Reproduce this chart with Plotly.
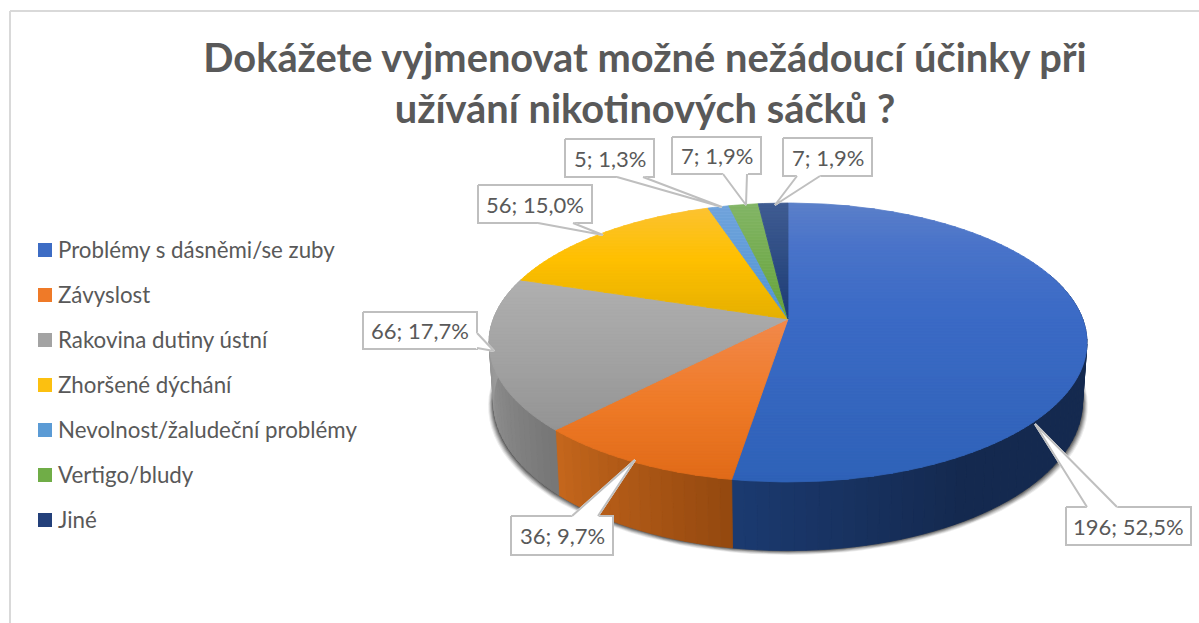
import math
import plotly.graph_objects as go

# ---- data ----
categories = ["Problémy s dásněmi/se zuby", "Závyslost", "Rakovina dutiny ústní",
              "Zhoršené dýchání", "Nevolnost/žaludeční problémy", "Vertigo/bludy", "Jiné"]
values = [196, 36, 66, 56, 5, 7, 7]
title_text = "Dokážete vyjmenovat možné nežádoucí účinky při<br>užívání nikotinových sáčků ?"

# ---- styles ----
swatch_colors = ["#3d6cc4", "#ef7a28", "#a3a3a3", "#fcc010", "#5b9bd5", "#70ad47", "#23407a"]
top_stops = [
    [(203, "#5c80c9"), (245, "#4a74c9"), (310, "#3c6bc6"), (482, "#2f62b8")],
    [(318, "#f2894c"), (400, "#ef7b28"), (482, "#e06a18")],
    [(278, "#b0b0b0"), (350, "#a4a4a4"), (430, "#949494")],
    [(205, "#fcc234"), (260, "#ffc000"), (319, "#e5b000")],
    [(205, "#70a3db"), (319, "#5094d4")],
    [(205, "#82b565"), (319, "#66a33a")],
    [(205, "#3f5c92"), (319, "#1d3c75")],
]
side_stops = [
    [(70, "#14294f"), (150, "#14294f"), (189, "#1b3a70")],
    [(189, "#93480f"), (224, "#c6671c")],
    [(224, "#767676"), (270, "#9c9c9c"), (290, "#a8a8a8")],
]
callouts = [
    ((1066, 507, 1191, 545), [(1087, 507), (1035, 424), (1117, 507)]),
    ((511, 516, 613, 555), [(572, 516), (635, 460), (598, 516)]),
    ((363, 312, 477, 349), [(477, 333), (494, 351), (477, 348)]),
    ((478, 185, 592, 223), [(538, 223), (603, 235), (573, 223)]),
    ((565, 139, 654, 177), [(617, 177), (722, 207), (643, 177)]),
    ((672, 137, 761, 174), [(723, 174), (746, 205), (747, 174)]),
    ((783, 138, 872, 176), [(797, 176), (775, 205), (820, 176)]),
]
CX, CY, RX, RY, K = 788, 319, 294.7, 135.5, 0.1684
SX, SY, DROP = 0.985, 1.0685, 57.5
FONT = "Lato"
TEXT = "#595959"


def hex2rgb(h):
    return tuple(int(h[i:i + 2], 16) for i in (1, 3, 5))


def ramp(stops, t):
    if t <= stops[0][0]:
        return stops[0][1]
    for (a, ca), (b, cb) in zip(stops, stops[1:]):
        if t <= b:
            f = (t - a) / (b - a)
            ra, rb = hex2rgb(ca), hex2rgb(cb)
            return "rgb(%d,%d,%d)" % tuple(round(x + (y - x) * f) for x, y in zip(ra, rb))
    return stops[-1][1]


def top_pt(deg):
    th = math.radians(deg)
    u, v = math.sin(th), math.cos(th)
    w = 1 + K * v
    return CX + RX * u / w, CY - RY * v / w


def low_pt(deg):
    x, y = top_pt(deg)
    return CX + (x - CX) * SX, CY + DROP + (y - CY) * SY


def clip(poly, y0, y1):
    def cut(p, keep, y):
        out = []
        for i in range(len(p)):
            a, b = p[i], p[(i + 1) % len(p)]
            ka, kb = keep(a), keep(b)
            if ka:
                out.append(a)
            if ka != kb:
                f = (y - a[1]) / (b[1] - a[1])
                out.append((a[0] + (b[0] - a[0]) * f, y))
        return out
    p = cut(poly, lambda q: q[1] >= y0, y0)
    return cut(p, lambda q: q[1] <= y1, y1) if p else []


fig = go.Figure()


def patch(pts, color, lw=0.8):
    xs = [p[0] for p in pts] + [pts[0][0]]
    ys = [p[1] for p in pts] + [pts[0][1]]
    fig.add_trace(go.Scatter(x=xs, y=ys, mode="lines", fill="toself", fillcolor=color,
                             line=dict(color=color, width=lw), hoverinfo="skip", showlegend=False))


total = sum(values)
edges = [0]
for val in values:
    edges.append(edges[-1] + val / total * 360)

# soft shadow under the pie
for grow, a in [(6, .07), (5, .1), (4, .13), (3, .16), (2, .2), (1, .25)]:
    ring = []
    for d in range(75, 292, 3):
        x, y = low_pt(d)
        ring.append((x + (x - CX) / RX * grow * 0.9, y + grow * 0.75))
    patch(ring, "rgba(0,0,0,%.2f)" % a, 0)

# side wall
for i in range(3):
    a0 = max(edges[i], 70)
    a1 = min(edges[i + 1], 292)
    n = max(1, int((a1 - a0) / 2))
    for j in range(n):
        d0 = a0 + (a1 - a0) * j / n
        d1 = a0 + (a1 - a0) * (j + 1) / n
        patch([top_pt(d0), top_pt(d1), low_pt(d1), low_pt(d0)], ramp(side_stops[i], (d0 + d1) / 2))

# top face, in horizontal gradient bands
for i in range(len(values)):
    a0, a1 = edges[i], edges[i + 1]
    n = max(2, int((a1 - a0) / 1.0))
    poly = [(CX, CY)] + [top_pt(a0 + (a1 - a0) * j / n) for j in range(n + 1)]
    ymin, ymax = min(p[1] for p in poly), max(p[1] for p in poly)
    y = ymin
    while y < ymax:
        part = clip(poly, y, y + 3)
        if len(part) >= 3:
            patch(part, ramp(top_stops[i], y + 1.5))
        y += 3

# callouts
for i, ((x0, y0, x1, y1), wedge) in enumerate(callouts):
    pts = [(x0, y0), (x1, y0), (x1, y1), (x0, y1)]
    xs = [p[0] for p in pts] + [x0]
    ys = [p[1] for p in pts] + [y0]
    fig.add_trace(go.Scatter(x=xs, y=ys, mode="lines", fill="toself", fillcolor="white",
                             line=dict(color="#bfbfbf", width=2), hoverinfo="skip", showlegend=False))
    fig.add_trace(go.Scatter(x=[p[0] for p in wedge] + [wedge[0][0]], y=[p[1] for p in wedge] + [wedge[0][1]],
                             mode="lines", fill="toself", fillcolor="white", line=dict(color="white", width=2),
                             hoverinfo="skip", showlegend=False))
    fig.add_trace(go.Scatter(x=[p[0] for p in wedge], y=[p[1] for p in wedge],
                             mode="lines", line=dict(color="#bfbfbf", width=2),
                             hoverinfo="skip", showlegend=False))
    label = f"{values[i]}; {values[i] / total * 100:.1f}%".replace(".", ",")
    fig.add_annotation(x=(x0 + x1) / 2, y=(y0 + y1) / 2, text=label, showarrow=False,
                       font=dict(family=FONT, size=22, color=TEXT), xanchor="center", yanchor="middle")

# legend
for i, name in enumerate(categories):
    ly = 250 + 45 * i
    fig.add_trace(go.Scatter(x=[45], y=[ly], mode="markers", name=name,
                             marker=dict(symbol="square", size=14, color=swatch_colors[i], line=dict(width=0)),
                             hoverinfo="skip", showlegend=False))
    fig.add_annotation(x=56, y=ly - 1, text=name, showarrow=False, xanchor="left", yanchor="middle",
                       font=dict(family=FONT, size=22.3, color=TEXT))

fig.update_layout(
    width=1199, height=623, margin=dict(l=0, r=0, t=0, b=0),
    paper_bgcolor="white", plot_bgcolor="white", hovermode=False,
    title=dict(text=title_text, x=645 / 1199, xanchor="center", y=0.885, yanchor="top",
               font=dict(family=FONT, size=39.8, color=TEXT, weight="bold")),
    xaxis=dict(range=[0, 1199], visible=False, fixedrange=True),
    yaxis=dict(range=[623, 0], visible=False, fixedrange=True),
    shapes=[
        dict(type="line", xref="x", yref="y", x0=10, x1=10, y0=11, y1=623, line=dict(color="#d9d9d9", width=2)),
        dict(type="line", xref="x", yref="y", x0=10, x1=1199, y0=11, y1=11, line=dict(color="#d9d9d9", width=2)),
    ],
)
fig.write_html("out.html", config={"displayModeBar": False},
               post_script="document.body.style.margin='0';")
